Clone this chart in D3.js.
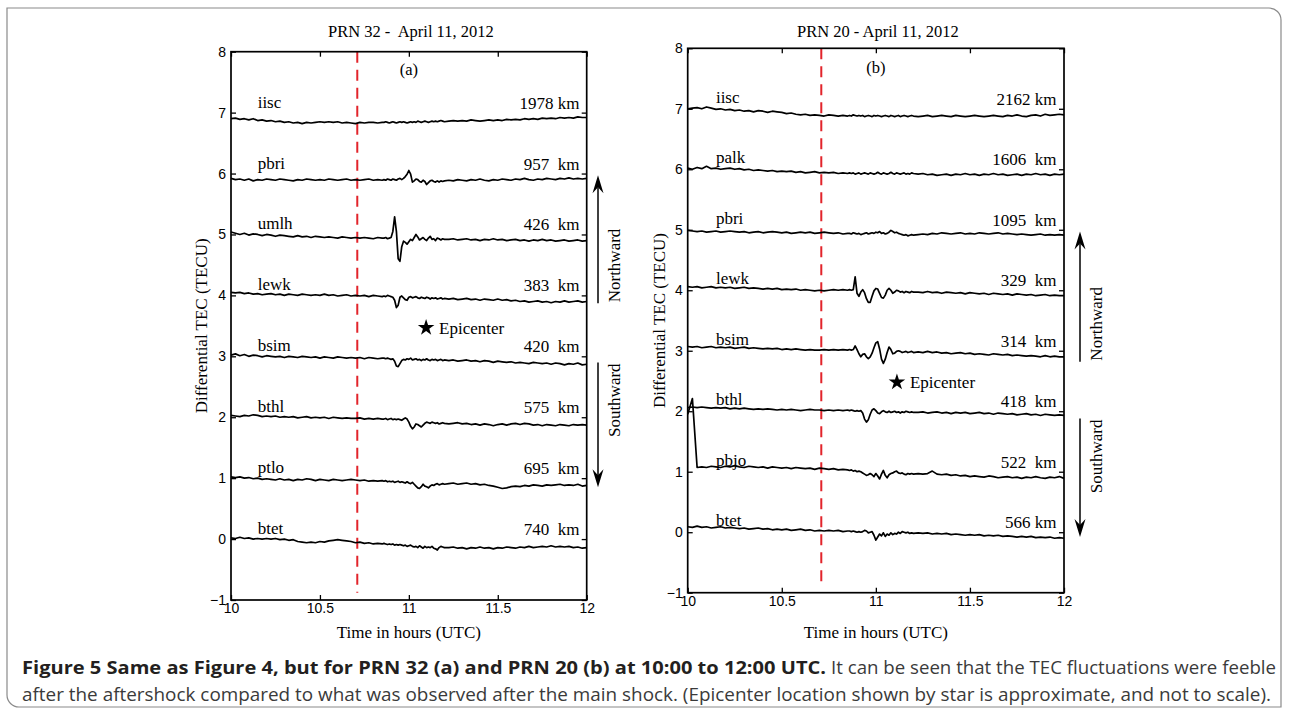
<!DOCTYPE html>
<html><head><meta charset="utf-8">
<script src="https://cdn.jsdelivr.net/npm/d3@7"></script>
<style>body{margin:0;background:#fff}svg{display:block}</style>
</head><body>
<svg id="c" width="1289" height="715"></svg>
<script>
// ---------- DATA ----------
const times = [
10,10.025,10.05,10.075,10.1,10.125,10.15,10.175,10.2,10.225,10.25,10.275,10.3,10.325,10.35,10.375,10.4,10.425,10.45,10.475,10.5,10.525,10.55,10.575,10.6,10.625,10.65,10.675,10.7,10.725,10.75,10.775,10.8,10.825,10.85,
10.86,10.87,10.88,10.89,10.9,10.91,10.92,10.93,10.94,10.95,10.96,10.97,10.98,10.99,11,11.01,11.02,11.03,11.04,11.05,11.06,11.07,11.08,11.09,11.1,11.11,11.12,11.13,11.14,11.15,11.16,11.17,11.18,11.19,11.2,
11.225,11.25,11.275,11.3,11.325,11.35,11.375,11.4,11.425,11.45,11.475,11.5,11.525,11.55,11.575,11.6,11.625,11.65,11.675,11.7,11.725,11.75,11.775,11.8,11.825,11.85,11.875,11.9,11.925,11.95,11.975,12];

const quakeTime = 10.71;
const xTicks = [10, 10.5, 11, 11.5, 12];
const xTickLabels = ["10", "10.5", "11", "11.5", "12"];
const yTicks = [-1, 0, 1, 2, 3, 4, 5, 6, 7, 8];

// Panel (a) PRN 32
const stationsA = ["iisc","pbri","umlh","lewk","bsim","bthl","ptlo","btet"];
const distancesA = ["1978 km","957  km","426  km","383  km","420  km","575  km","695  km","740  km"];
const levelsA = [7,6,5,4,3,2,1,0];
const iiscA = [
6.90,6.91,6.89,6.90,6.88,6.90,6.87,6.88,6.86,6.87,6.85,6.86,6.84,6.85,6.83,6.84,6.82,6.84,6.83,6.84,6.85,6.84,6.85,6.84,6.85,6.83,6.84,6.83,6.82,6.84,6.83,6.84,6.84,6.83,6.84,
6.84,6.85,6.84,6.83,6.84,6.85,6.84,6.83,6.84,6.85,6.84,6.85,6.84,6.83,6.84,6.85,6.84,6.85,6.84,6.86,6.85,6.84,6.85,6.86,6.85,6.84,6.85,6.86,6.85,6.86,6.85,6.86,6.87,6.86,6.85,
6.86,6.87,6.86,6.87,6.86,6.88,6.87,6.86,6.87,6.88,6.87,6.88,6.87,6.89,6.88,6.89,6.88,6.90,6.89,6.90,6.89,6.91,6.90,6.91,6.90,6.92,6.91,6.92,6.91,6.93,6.92,6.92];
const pbriA = [
5.92,5.90,5.91,5.89,5.91,5.88,5.90,5.89,5.91,5.90,5.89,5.91,5.90,5.89,5.88,5.90,5.89,5.91,5.90,5.89,5.90,5.89,5.91,5.90,5.89,5.90,5.91,5.89,5.90,5.89,5.90,5.91,5.89,5.90,5.89,
5.90,5.89,5.91,5.90,5.89,5.91,5.90,5.89,5.91,5.92,5.90,5.92,5.95,5.99,6.05,5.99,5.86,5.88,5.91,5.90,5.87,5.86,5.89,5.87,5.82,5.85,5.88,5.89,5.87,5.86,5.88,5.86,5.88,5.87,5.88,
5.89,5.88,5.90,5.89,5.88,5.90,5.89,5.91,5.89,5.88,5.90,5.89,5.91,5.90,5.89,5.91,5.90,5.92,5.90,5.89,5.91,5.90,5.92,5.91,5.90,5.92,5.91,5.93,5.91,5.92,5.91,5.92];
const umlhA = [
5.04,5.02,5.00,5.02,4.99,5.01,5.00,4.98,5.00,4.99,4.97,4.99,4.98,4.97,4.96,4.98,4.96,4.97,4.95,4.97,4.96,4.95,4.96,4.95,4.94,4.96,4.95,4.94,4.95,4.94,4.95,4.94,4.93,4.95,4.94,
4.94,4.95,4.93,4.94,4.95,5.05,5.29,5.05,4.60,4.56,4.80,4.89,4.87,4.84,4.88,4.92,4.90,4.95,5.00,4.96,4.91,4.93,4.95,4.92,4.90,4.94,4.97,4.92,4.93,4.90,4.94,4.93,4.91,4.93,4.92,
4.92,4.93,4.91,4.92,4.93,4.91,4.92,4.90,4.92,4.91,4.93,4.91,4.92,4.90,4.91,4.92,4.90,4.91,4.89,4.91,4.90,4.92,4.90,4.91,4.89,4.90,4.91,4.89,4.90,4.91,4.89,4.90];
const lewkA = [
4.05,4.04,4.05,4.03,4.04,4.02,4.03,4.01,4.02,4.03,4.01,4.02,4.00,4.02,4.01,4.00,4.02,4.01,4.00,4.01,4.00,4.02,4.00,4.01,3.99,4.00,4.01,3.99,4.00,3.99,4.00,3.98,4.00,3.99,3.98,
3.99,3.98,4.00,3.99,3.98,3.97,3.92,3.80,3.84,3.97,3.99,3.96,3.93,3.92,3.97,3.98,3.96,3.97,3.98,3.96,3.95,3.97,3.96,3.95,3.97,3.96,3.94,3.96,3.95,3.96,3.94,3.95,3.96,3.94,3.95,
3.94,3.95,3.93,3.94,3.95,3.93,3.94,3.92,3.94,3.93,3.92,3.94,3.92,3.93,3.91,3.92,3.90,3.91,3.89,3.90,3.91,3.89,3.90,3.88,3.90,3.89,3.91,3.89,3.90,3.91,3.89,3.90];
const bsimA = [
3.02,3.04,3.01,3.03,3.00,3.02,3.01,2.99,3.01,3.00,2.99,3.00,2.98,3.00,2.99,2.98,3.00,2.99,2.98,2.99,2.97,2.99,2.98,2.97,2.99,2.98,2.97,2.98,2.97,2.98,2.96,2.98,2.97,2.96,2.97,
2.97,2.96,2.97,2.96,2.95,2.96,2.92,2.84,2.83,2.88,2.93,2.95,2.94,2.96,2.95,2.97,2.94,2.95,2.96,2.94,2.95,2.93,2.95,2.94,2.96,2.94,2.93,2.95,2.94,2.95,2.93,2.94,2.95,2.93,2.94,
2.93,2.94,2.92,2.93,2.94,2.92,2.93,2.91,2.93,2.92,2.90,2.92,2.91,2.90,2.91,2.89,2.90,2.89,2.88,2.90,2.89,2.88,2.89,2.87,2.89,2.88,2.86,2.88,2.87,2.89,2.86,2.87];
const bthlA = [
2.03,2.02,2.01,2.03,2.02,2.04,2.03,2.01,2.02,2.01,2.02,2.00,2.01,2.00,2.01,1.99,2.00,2.01,1.99,2.00,1.99,2.00,1.98,2.00,1.99,1.98,1.99,1.98,1.98,1.99,1.97,1.98,1.97,1.98,1.97,
1.97,1.98,1.96,1.97,1.98,1.96,1.97,1.96,1.97,1.96,1.95,1.97,1.99,1.97,1.92,1.85,1.81,1.84,1.89,1.88,1.86,1.84,1.87,1.90,1.92,1.91,1.90,1.92,1.91,1.90,1.91,1.89,1.90,1.91,1.90,
1.89,1.90,1.91,1.89,1.90,1.88,1.89,1.87,1.89,1.88,1.86,1.88,1.89,1.87,1.89,1.90,1.88,1.90,1.89,1.87,1.88,1.86,1.88,1.87,1.86,1.88,1.87,1.86,1.88,1.87,1.88,1.87];
const ptloA = [
1.02,1.01,1.02,1.00,1.01,0.99,1.00,0.98,0.99,0.98,0.97,0.99,0.97,0.98,0.96,0.98,0.97,0.99,0.98,0.96,0.98,0.97,0.96,0.98,0.97,0.96,0.97,0.98,0.97,0.96,0.97,0.95,0.96,0.95,0.96,
0.95,0.96,0.94,0.95,0.94,0.95,0.93,0.94,0.95,0.93,0.94,0.93,0.92,0.94,0.92,0.91,0.93,0.90,0.87,0.84,0.83,0.86,0.90,0.87,0.86,0.84,0.87,0.89,0.88,0.90,0.91,0.89,0.90,0.91,0.90,
0.91,0.92,0.90,0.91,0.92,0.90,0.91,0.89,0.90,0.88,0.87,0.85,0.83,0.84,0.86,0.87,0.86,0.88,0.87,0.89,0.88,0.87,0.89,0.88,0.89,0.90,0.88,0.89,0.88,0.90,0.87,0.88];
const btetA = [
0.02,0.01,0.03,0.01,0.02,0.00,0.01,0.00,0.01,0.00,0.01,-0.01,0.00,-0.02,-0.01,-0.04,-0.05,-0.06,-0.05,-0.06,-0.04,-0.05,-0.03,-0.02,-0.01,-0.02,-0.03,-0.04,-0.06,-0.05,-0.07,-0.06,-0.08,-0.07,-0.08,
-0.07,-0.08,-0.09,-0.08,-0.09,-0.08,-0.10,-0.09,-0.10,-0.09,-0.10,-0.11,-0.10,-0.12,-0.11,-0.10,-0.12,-0.13,-0.12,-0.14,-0.11,-0.13,-0.15,-0.12,-0.14,-0.13,-0.14,-0.12,-0.15,-0.16,-0.18,-0.14,-0.12,-0.13,-0.14,
-0.14,-0.13,-0.15,-0.14,-0.16,-0.14,-0.15,-0.13,-0.15,-0.14,-0.16,-0.14,-0.15,-0.13,-0.14,-0.15,-0.13,-0.14,-0.12,-0.14,-0.13,-0.12,-0.13,-0.11,-0.13,-0.12,-0.13,-0.12,-0.14,-0.13,-0.15,-0.14];

// Panel (b) PRN 20
const stationsB = ["iisc","palk","pbri","lewk","bsim","bthl","pbjo","btet"];
const distancesB = ["2162 km","1606  km","1095  km","329  km","314  km","418  km","522  km","566 km"];
const levelsB = [7,6,5,4,3,2,1,0];
const iiscB = [
7.00,7.01,7.02,7.00,7.03,7.01,6.99,7.00,6.98,6.99,6.97,6.98,6.96,6.97,6.95,6.97,6.96,6.94,6.96,6.95,6.94,6.92,6.93,6.91,6.90,6.91,6.89,6.90,6.89,6.88,6.90,6.89,6.88,6.89,6.88,
6.89,6.88,6.90,6.89,6.88,6.89,6.88,6.89,6.87,6.88,6.89,6.88,6.87,6.89,6.88,6.89,6.88,6.87,6.88,6.89,6.88,6.87,6.89,6.88,6.87,6.88,6.89,6.87,6.88,6.89,6.88,6.87,6.88,6.89,6.88,
6.87,6.88,6.89,6.87,6.88,6.89,6.88,6.87,6.89,6.88,6.87,6.88,6.89,6.88,6.87,6.88,6.89,6.88,6.87,6.89,6.88,6.90,6.88,6.87,6.89,6.90,6.88,6.91,6.89,6.90,6.91,6.90];
const palkB = [
6.02,6.00,6.03,6.01,6.05,6.01,6.02,6.00,6.01,6.02,6.00,6.01,5.99,6.00,5.98,5.99,5.98,5.97,5.98,5.96,5.97,5.96,5.97,5.95,5.96,5.94,5.95,5.96,5.94,5.95,5.94,5.95,5.93,5.94,5.93,
5.94,5.93,5.94,5.92,5.93,5.94,5.92,5.93,5.94,5.93,5.92,5.94,5.93,5.92,5.93,5.95,5.93,5.92,5.94,5.93,5.92,5.93,5.95,5.93,5.92,5.94,5.93,5.92,5.93,5.94,5.92,5.93,5.92,5.94,5.93,
5.92,5.93,5.91,5.92,5.90,5.91,5.92,5.90,5.92,5.91,5.93,5.91,5.92,5.90,5.92,5.91,5.93,5.91,5.92,5.90,5.91,5.92,5.90,5.92,5.91,5.93,5.91,5.92,5.90,5.92,5.91,5.92];
const pbriB = [
4.99,4.98,4.97,4.98,4.96,4.97,4.98,4.96,4.97,4.98,4.97,4.96,4.97,4.95,4.96,4.97,4.95,4.96,4.97,4.96,4.95,4.96,4.94,4.95,4.96,4.95,4.96,4.94,4.95,4.96,4.95,4.94,4.95,4.93,4.94,
4.94,4.93,4.95,4.94,4.93,4.94,4.92,4.93,4.94,4.95,4.93,4.94,4.95,4.94,4.96,4.95,4.97,4.94,4.95,4.93,4.94,4.96,4.99,4.97,4.95,4.96,4.94,4.93,4.92,4.91,4.92,4.90,4.91,4.92,4.91,
4.92,4.93,4.92,4.94,4.93,4.95,4.94,4.93,4.94,4.95,4.93,4.94,4.93,4.95,4.94,4.93,4.94,4.95,4.93,4.94,4.93,4.92,4.93,4.92,4.91,4.92,4.93,4.91,4.92,4.91,4.92,4.91];
const lewkB = [
4.06,4.05,4.06,4.04,4.05,4.06,4.04,4.05,4.04,4.05,4.03,4.04,4.05,4.03,4.04,4.03,4.02,4.03,4.02,4.03,4.01,4.02,4.01,4.02,4.00,4.01,4.00,3.99,4.00,3.99,4.00,4.01,4.00,4.01,4.00,
4.01,4.00,4.01,4.22,3.95,3.90,3.97,4.01,3.96,3.86,3.80,3.80,3.90,3.99,4.03,4.02,3.95,3.88,3.87,3.92,4.00,4.03,4.00,3.95,3.97,4.00,3.99,3.97,3.98,3.96,3.98,3.97,3.96,3.98,3.97,
3.97,3.96,3.98,3.96,3.97,3.95,3.97,3.96,3.95,3.96,3.94,3.96,3.95,3.94,3.95,3.93,3.95,3.94,3.93,3.94,3.92,3.94,3.93,3.92,3.93,3.91,3.92,3.93,3.91,3.92,3.91,3.91];
const bsimB = [
3.07,3.06,3.07,3.05,3.06,3.07,3.05,3.06,3.05,3.06,3.04,3.05,3.06,3.04,3.05,3.04,3.03,3.04,3.03,3.04,3.02,3.03,3.02,3.03,3.02,3.01,3.02,3.01,3.01,3.02,3.01,3.02,3.01,3.02,3.01,
3.02,3.01,3.02,3.08,3.02,2.95,2.90,2.94,2.95,2.90,2.87,2.90,2.96,3.05,3.13,3.15,3.03,2.86,2.79,2.86,2.97,3.06,3.02,2.95,2.96,2.99,3.00,2.99,2.97,2.98,2.99,2.97,2.98,2.99,2.97,
2.98,2.97,2.99,2.97,2.98,2.96,2.97,2.95,2.96,2.97,2.95,2.96,2.94,2.95,2.94,2.93,2.95,2.94,2.93,2.94,2.92,2.93,2.92,2.91,2.92,2.91,2.90,2.92,2.90,2.91,2.90,2.90];
const bthlB = [
2.06,2.07,2.06,2.07,2.06,2.05,2.06,2.05,2.06,2.04,2.05,2.04,2.05,2.04,2.03,2.04,2.03,2.04,2.03,2.02,2.03,2.02,2.03,2.02,2.01,2.02,2.03,2.02,2.02,2.01,2.02,2.01,2.02,2.01,2.02,
2.01,2.02,2.01,2.00,2.01,2.00,2.01,1.97,1.87,1.82,1.86,1.95,2.02,2.04,2.01,1.97,1.96,1.99,2.01,1.99,1.98,2.00,1.98,1.99,2.00,1.98,1.99,1.97,1.99,1.98,2.00,1.99,1.98,1.99,1.98,
1.98,1.99,1.97,1.98,1.99,1.97,1.98,1.96,1.98,1.97,1.98,1.96,1.97,1.98,1.96,1.97,1.95,1.97,1.96,1.95,1.96,1.94,1.95,1.96,1.94,1.95,1.93,1.95,1.94,1.93,1.94,1.93];
const pbjoB = [
1.95,2.21,1.07,1.08,1.07,1.09,1.08,1.07,1.09,1.08,1.10,1.08,1.07,1.09,1.08,1.07,1.08,1.06,1.08,1.07,1.06,1.07,1.05,1.07,1.06,1.05,1.06,1.04,1.06,1.05,1.04,1.05,1.03,1.04,1.03,
1.02,1.03,1.01,1.02,1.00,1.01,1.00,0.98,0.96,0.94,0.95,0.97,0.95,0.92,0.97,0.93,0.88,0.96,1.02,0.94,0.90,0.95,0.97,0.98,1.00,1.01,0.98,0.97,0.98,0.96,0.95,0.97,0.96,0.97,0.96,
0.97,0.96,0.97,1.01,0.96,0.95,0.96,0.94,0.95,0.93,0.94,0.92,0.93,0.92,0.91,0.93,0.92,0.90,0.91,0.92,0.90,0.91,0.89,0.91,0.90,0.92,0.90,0.89,0.91,0.90,0.92,0.89];
const btetB = [
0.09,0.08,0.10,0.08,0.09,0.07,0.08,0.09,0.07,0.08,0.07,0.06,0.07,0.05,0.06,0.07,0.05,0.06,0.04,0.05,0.04,0.05,0.03,0.04,0.05,0.03,0.04,0.02,0.03,0.02,0.03,0.02,0.03,0.01,0.02,
0.02,0.01,0.02,0.01,0.00,0.01,0.00,0.01,0.03,0.02,-0.01,0.00,0.01,-0.05,-0.13,-0.08,-0.03,-0.06,-0.01,-0.07,-0.03,-0.05,-0.01,-0.04,-0.02,-0.03,0.00,-0.02,0.01,0.00,-0.01,0.00,-0.02,-0.01,-0.02,
-0.01,-0.02,-0.01,-0.03,-0.02,-0.03,-0.02,-0.04,-0.03,-0.04,-0.05,-0.04,-0.05,-0.04,-0.06,-0.05,-0.06,-0.05,-0.07,-0.06,-0.07,-0.08,-0.07,-0.08,-0.07,-0.09,-0.08,-0.09,-0.08,-0.10,-0.09,-0.10];

// ---------- DRAWING ----------
const svg = d3.select("#c");
const serif = '"Liberation Serif","Times New Roman",serif';
const sans = '"Liberation Sans",Arial,sans-serif';

svg.append("path")
  .attr("d","M7,8 H1269 A12,12 0 0 1 1281,20 V707 H19 A12,12 0 0 1 7,695 Z")
  .attr("fill","none").attr("stroke","#8a8a8a").attr("stroke-width",1.2);

const panels = [
  {left:231, right:586.7, top:51.7, bottom:600, title:"PRN 32 -  April 11, 2012", tag:"(a)",
   stations:stationsA, distances:distancesA, levels:levelsA,
   series:[iiscA,pbriA,umlhA,lewkA,bsimA,bthlA,ptloA,btetA],
   labelDy:-5, star:[11.097,3.47], redEnd:-0.88, ylabX:207, tagY:7.61,
   north:[3.87,5.97], south:[2.9,0.85], arrowX:598, arrowTextX:620},
  {left:687.7, right:1064, top:48.3, bottom:592.7, title:"PRN 20 - April 11, 2012", tag:"(b)",
   stations:stationsB, distances:distancesB, levels:levelsB,
   series:[iiscB,palkB,pbriB,lewkB,bsimB,bthlB,pbjoB,btetB],
   labelDy:-6, star:[11.112,2.48], redEnd:-0.9, ylabX:665, tagY:7.59,
   north:[2.82,4.97], south:[1.88,-0.08], arrowX:1080, arrowTextX:1102}
];

function arrow(g, x, y0, y1){
  const dir = y1 < y0 ? 1 : -1;
  const L = 18, hw = 5.5, notch = 12;
  g.append("line").attr("x1",x).attr("x2",x).attr("y1",y0).attr("y2",y1 + dir*notch)
    .attr("stroke","#000").attr("stroke-width",1.5);
  g.append("path")
    .attr("d",`M${x},${y1} L${x-hw},${y1+dir*L} L${x},${y1+dir*notch} L${x+hw},${y1+dir*L} Z`)
    .attr("fill","#000");
}

panels.forEach(p => {
  const x = d3.scaleLinear().domain([10,12]).range([p.left,p.right]);
  const y = d3.scaleLinear().domain([-1,8]).range([p.bottom,p.top]);
  const g = svg.append("g");

  g.append("line").attr("x1",x(quakeTime)).attr("x2",x(quakeTime))
    .attr("y1",y(8)).attr("y2",y(p.redEnd))
    .attr("stroke","#e2242b").attr("stroke-width",2).attr("stroke-dasharray","11,7");

  const line = d3.line().x(d=>x(d[0])).y(d=>y(d[1]));
  p.series.forEach((vals,i) => {
    g.append("path").datum(times.map((t,j)=>[t, vals[j]]))
      .attr("d", line).attr("fill","none").attr("stroke","#000")
      .attr("stroke-width",1.7).attr("stroke-linejoin","round");
    g.append("text").attr("x", x(10.15)).attr("y", y(p.levels[i]) + p.labelDy)
      .attr("font-family",serif).attr("font-size",17).text(p.stations[i]);
    g.append("text").attr("x", x(11.96)).attr("y", y(p.levels[i]) - 4)
      .attr("text-anchor","end").attr("font-family",serif).attr("font-size",17)
      .style("white-space","pre").text(p.distances[i]);
  });

  const styleAxis = sel => {
    sel.select(".domain").remove();
    sel.selectAll(".tick line").attr("stroke","#000").attr("stroke-width",1.3);
    sel.selectAll(".tick text").attr("font-family",sans).attr("font-size",14).attr("fill","#000");
  };
  g.append("g").attr("transform",`translate(${p.left},0)`)
    .call(d3.axisLeft(y).tickValues(yTicks).tickSize(-5).tickPadding(5).tickFormat(d3.format("d")))
    .call(styleAxis);
  g.append("g").attr("transform",`translate(${p.right},0)`)
    .call(d3.axisRight(y).tickValues(yTicks).tickSize(-5).tickFormat(""))
    .call(styleAxis);
  g.append("g").attr("transform",`translate(0,${p.bottom})`)
    .call(d3.axisBottom(x).tickValues(xTicks).tickSize(-5).tickPadding(3).tickFormat((d,i)=>xTickLabels[i]))
    .call(styleAxis);
  g.append("g").attr("transform",`translate(0,${p.top})`)
    .call(d3.axisTop(x).tickValues(xTicks).tickSize(-5).tickFormat(""))
    .call(styleAxis);
  g.append("rect").attr("x",p.left).attr("y",p.top)
    .attr("width",p.right-p.left).attr("height",p.bottom-p.top)
    .attr("fill","none").attr("stroke","#000").attr("stroke-width",1.7);

  const cx = (p.left+p.right)/2;
  g.append("text").attr("x",cx+2).attr("y",37).attr("text-anchor","middle")
    .attr("font-family",serif).attr("font-size",16.5).style("white-space","pre").text(p.title);
  g.append("text").attr("x",x(11)).attr("y",y(p.tagY)).attr("text-anchor","middle")
    .attr("font-family",serif).attr("font-size",16.5).text(p.tag);
  g.append("text").attr("x",cx).attr("y",638).attr("text-anchor","middle")
    .attr("font-family",serif).attr("font-size",17).text("Time in hours (UTC)");
  g.append("text").attr("transform",`translate(${p.ylabX},${(p.top+p.bottom)/2}) rotate(-90)`)
    .attr("text-anchor","middle").attr("font-family",serif).attr("font-size",17)
    .text("Differential TEC (TECU)");

  g.append("path").attr("d", d3.symbol().type(d3.symbolStar).size(85)())
    .attr("transform",`translate(${x(p.star[0])},${y(p.star[1])})`).attr("fill","#000");
  g.append("text").attr("x",x(p.star[0])+13).attr("y",y(p.star[1])+6)
    .attr("font-family",serif).attr("font-size",17).text("Epicenter");

  arrow(g, p.arrowX, y(p.north[0]), y(p.north[1]));
  arrow(g, p.arrowX, y(p.south[0]), y(p.south[1]));
  g.append("text").attr("transform",`translate(${p.arrowTextX},${y(p.north[0])-1}) rotate(-90)`)
    .attr("text-anchor","start").attr("font-family",serif).attr("font-size",17).text("Northward");
  g.append("text").attr("transform",`translate(${p.arrowTextX},${y(p.south[0])+1}) rotate(-90)`)
    .attr("text-anchor","end").attr("font-family",serif).attr("font-size",17).text("Southward");
});

const capFont = '"Open Sans","Noto Sans",sans-serif';
svg.append("text").attr("x",22).attr("y",674).attr("font-family",capFont).attr("font-weight","bold")
  .attr("font-size",18.5).attr("fill","#231f20")
  .attr("textLength",804).attr("lengthAdjust","spacingAndGlyphs")
  .text("Figure 5 Same as Figure 4, but for PRN 32 (a) and PRN 20 (b) at 10:00 to 12:00 UTC.");
svg.append("text").attr("x",831).attr("y",674).attr("font-family",capFont)
  .attr("font-size",18.5).attr("fill","#3a3a3a")
  .attr("textLength",445).attr("lengthAdjust","spacingAndGlyphs")
  .text("It can be seen that the TEC fluctuations were feeble");
svg.append("text").attr("x",22).attr("y",701).attr("font-family",capFont)
  .attr("font-size",18.5).attr("fill","#3a3a3a")
  .attr("textLength",1249).attr("lengthAdjust","spacingAndGlyphs")
  .text("after the aftershock compared to what was observed after the main shock. (Epicenter location shown by star is approximate, and not to scale).");
</script>
</body></html>
